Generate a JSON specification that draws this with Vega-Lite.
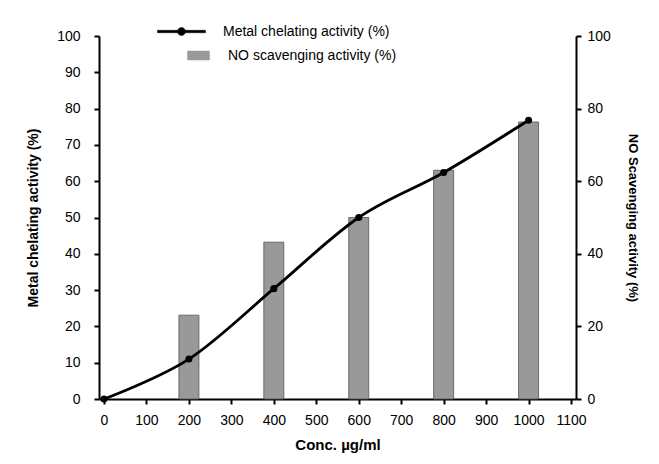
{
  "$schema": "https://vega.github.io/schema/vega-lite/v6.json",
  "width": 477,
  "height": 363,
  "autosize": "none",
  "padding": {"left": 99, "top": 36, "right": 83, "bottom": 65},
  "background": "white",
  "config": {
    "font": "Liberation Sans",
    "view": {"stroke": null},
    "axis": {
      "grid": false,
      "domainColor": "black",
      "domainWidth": 2,
      "tickColor": "black",
      "tickWidth": 2,
      "tickSize": 5,
      "labelColor": "black",
      "labelFontSize": 14,
      "titleColor": "black",
      "titleFontSize": 14,
      "titleFontWeight": "bold"
    },
    "legend": {
      "orient": "none",
      "legendX": 72,
      "legendY": -15,
      "title": null,
      "padding": 0,
      "labelFontSize": 14,
      "labelColor": "black",
      "labelLimit": 0,
      "symbolSize": 400,
      "labelOffset": 31,
      "rowPadding": 6
    }
  },
  "data": {
    "values": [
      {"conc": 0, "metal": 0, "no": null},
      {"conc": 200, "metal": 11, "no": 23.1},
      {"conc": 400, "metal": 30.4, "no": 43.2},
      {"conc": 600, "metal": 50, "no": 50},
      {"conc": 800, "metal": 62.4, "no": 63},
      {"conc": 1000, "metal": 76.8, "no": 76.3}
    ]
  },
  "encoding": {
    "x": {
      "field": "conc",
      "type": "quantitative",
      "scale": {"domain": [0, 1100], "nice": false},
      "axis": {
        "values": [0, 100, 200, 300, 400, 500, 600, 700, 800, 900, 1000, 1100],
        "format": "d",
        "title": "Conc. µg/ml",
        "titleFontSize": 15,
        "labelPadding": 9,
        "titlePadding": 10,
        "labelFlush": false
      }
    }
  },
  "layer": [
    {
      "transform": [{"filter": "datum.no != null"}],
      "mark": {"type": "bar", "width": 20, "stroke": "#555555", "strokeWidth": 0.8},
      "encoding": {
        "y": {
          "field": "no",
          "type": "quantitative",
          "scale": {"domain": [0, 100], "nice": false},
          "axis": {
            "orient": "right",
            "values": [0, 20, 40, 60, 80, 100],
            "title": "NO Scavenging activity (%)",
            "titleFontSize": 13,
            "labelPadding": 6,
            "titlePadding": 15
          }
        },
        "color": {
          "datum": "NO scavenging activity (%)",
          "type": "nominal",
          "scale": {
            "domain": ["Metal chelating activity (%)", "NO scavenging activity (%)"],
            "range": ["black", "#999999"]
          },
          "legend": {
            "encode": {
              "symbols": {
                "update": {
                  "shape": {"signal": "datum.value == 'Metal chelating activity (%)' ? 'M-2.4,-0.12H2.4V0.12H-2.4Z M-0.4,0A0.4,0.4 0 1 1 0.4,0A0.4,0.4 0 1 1 -0.4,0Z' : 'M0.6,-0.45H2.8V0.45H0.6Z'"},
                  "fill": {"signal": "datum.value == 'Metal chelating activity (%)' ? 'black' : '#999999'"},
                  "stroke": {"signal": "datum.value == 'Metal chelating activity (%)' ? 'black' : '#555555'"},
                  "strokeWidth": {"value": 0.5},
                  "opacity": {"value": 1}
                }
              },
              "labels": {
                "update": {
                  "dx": {"signal": "datum.value == 'Metal chelating activity (%)' ? 0 : 5"}
                }
              }
            }
          }
        }
      }
    },
    {
      "mark": {
        "type": "line",
        "interpolate": "cardinal",
        "strokeWidth": 2.8,
        "point": {"filled": true, "size": 50, "color": "black"}
      },
      "encoding": {
        "y": {
          "field": "metal",
          "type": "quantitative",
          "scale": {"domain": [0, 100], "nice": false},
          "axis": {
            "orient": "left",
            "values": [0, 10, 20, 30, 40, 50, 60, 70, 80, 90, 100],
            "title": "Metal chelating activity (%)",
            "labelPadding": 14,
            "titlePadding": 16
          }
        },
        "color": {
          "datum": "Metal chelating activity (%)",
          "type": "nominal",
          "legend": {
            "encode": {
              "symbols": {
                "update": {
                  "shape": {"signal": "datum.value == 'Metal chelating activity (%)' ? 'M-2.4,-0.12H2.4V0.12H-2.4Z M-0.4,0A0.4,0.4 0 1 1 0.4,0A0.4,0.4 0 1 1 -0.4,0Z' : 'M0.6,-0.45H2.8V0.45H0.6Z'"},
                  "fill": {"signal": "datum.value == 'Metal chelating activity (%)' ? 'black' : '#999999'"},
                  "stroke": {"signal": "datum.value == 'Metal chelating activity (%)' ? 'black' : '#555555'"},
                  "strokeWidth": {"value": 0.5},
                  "opacity": {"value": 1}
                }
              },
              "labels": {
                "update": {
                  "dx": {"signal": "datum.value == 'Metal chelating activity (%)' ? 0 : 5"}
                }
              }
            }
          }
        }
      }
    }
  ],
  "resolve": {"scale": {"y": "independent"}}
}
